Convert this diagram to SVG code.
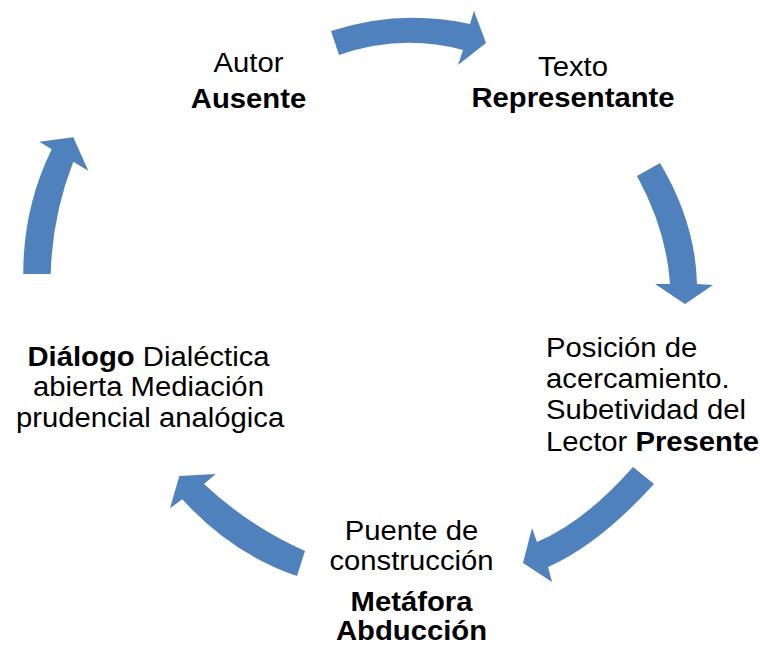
<svg xmlns="http://www.w3.org/2000/svg" width="760" height="645" viewBox="0 0 760 645">
<style>
.arrow{fill:#4F81BD;stroke:none}
text{font-family:"Liberation Sans",Arial,sans-serif;font-size:28px;fill:#000}
.b{font-weight:bold}
.c{text-anchor:middle}
</style>
<rect width="760" height="645" fill="#fff"/>
<g id="connectors">
<path class="arrow" d="M331,31 Q399.5,8.5 470,24 L474,11 L486,43 L458,65 L463,50 Q401,33.5 339,55 Z"/>
<path class="arrow" d="M660,163 Q695.5,222.5 697,284 L713,285 L685,304 L655,284 L670,284 Q666.5,230 637,176 Z"/>
<path class="arrow" d="M654,484 Q599,544.5 548,567 L552,582 L523,563 L532,528 L537,542 Q585,521.5 633,467 Z"/>
<path class="arrow" d="M297,576 Q232,554 182.3,499.3 L170,508.3 L179.3,476 L215.7,474 L204,484 Q249,526 305,551 Z"/>
<path class="arrow" d="M23.3,274 Q23,208 51.7,149.3 L39.3,141.7 L73.3,137.3 L88.3,170.7 L73.3,161.7 Q52.2,215.9 50.7,274 Z"/>
</g>
<g id="node-autor" transform="matrix(1.045,0,0,1,-11.18,0)">
<text class="c" x="248.5" y="71.7">Autor</text>
<text class="c b" x="248.5" y="108.3">Ausente</text>
</g>
<g id="node-texto" transform="matrix(1.045,0,0,1,-25.79,0)">
<text class="c" x="573" y="75.7">Texto</text>
<text class="c b" x="573" y="106.7">Representante</text>
</g>
<g id="node-posicion" transform="matrix(1.045,0,0,1,-24.57,0)">
<text x="546" y="356.7">Posición de</text>
<text x="546" y="388.3">acercamiento.</text>
<text x="546" y="419.5">Subetividad del</text>
<text x="546" y="451">Lector <tspan class="b">Presente</tspan></text>
</g>
<g id="node-puente" transform="matrix(1.045,0,0,1,-18.52,0)">
<text class="c" x="411.5" y="540">Puente de</text>
<text class="c" x="411.5" y="570">construcción</text>
<text class="c b" x="411.5" y="610.7">Metáfora</text>
<text class="c b" x="411.5" y="640">Abducción</text>
</g>
<g id="node-dialogo" transform="matrix(1.045,0,0,1,-6.7,0)">
<text class="c" x="148.5" y="366"><tspan class="b">Diálogo</tspan> Dialéctica</text>
<text class="c" x="148.5" y="396.5">abierta Mediación</text>
<text class="c" x="150" y="427">prudencial analógica</text>
</g>
</svg>
